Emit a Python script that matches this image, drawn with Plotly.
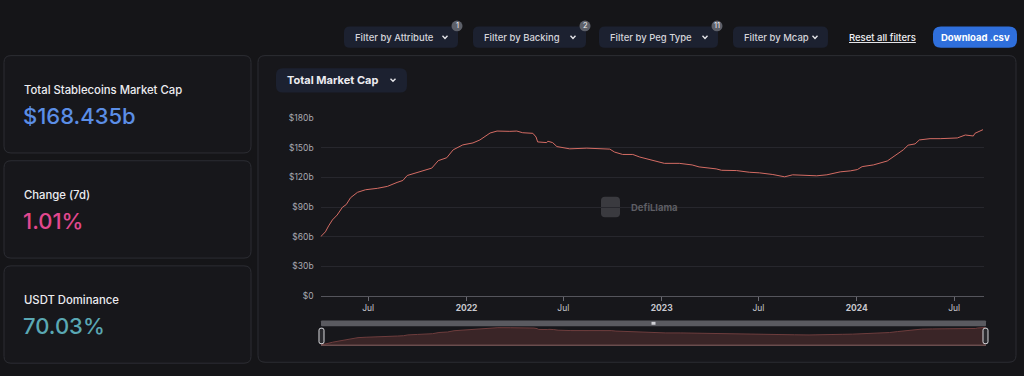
import plotly.graph_objects as go

# ---------------- data ----------------
dates = ["2021-04-03","2021-04-12","2021-04-18","2021-04-25","2021-05-04","2021-05-14","2021-05-21",
         "2021-05-29","2021-06-11","2021-06-26","2021-07-18","2021-08-06","2021-08-24","2021-09-04",
         "2021-09-12","2021-09-30","2021-10-28","2021-11-09","2021-11-25","2021-12-07","2021-12-25",
         "2022-01-13","2022-01-26","2022-02-14","2022-02-27","2022-03-23","2022-04-05","2022-04-16",
         "2022-05-05","2022-05-11","2022-05-14","2022-05-31","2022-06-02","2022-06-11","2022-06-19",
         "2022-07-13","2022-08-14","2022-09-26","2022-10-05","2022-10-20","2022-11-08","2022-11-21",
         "2022-12-10","2022-12-28","2023-01-06","2023-02-03","2023-02-27","2023-03-12","2023-04-13",
         "2023-04-23","2023-05-21","2023-06-14","2023-07-03","2023-07-28","2023-08-19","2023-09-03",
         "2023-09-30","2023-10-18","2023-11-06","2023-12-01","2023-12-20","2024-01-02","2024-01-11",
         "2024-02-01","2024-02-27","2024-03-13","2024-03-28","2024-04-06","2024-04-19","2024-04-27",
         "2024-05-17","2024-06-05","2024-07-07","2024-07-22","2024-08-06","2024-08-09","2024-08-24"]
mcap_b = [60, 65, 71, 77, 82, 90, 92.6,
          99.5, 105, 107.6, 109, 111, 115, 117,
          122, 125, 129.5, 137, 140, 148, 153,
          155, 158, 165, 167, 166.7, 167, 165.3,
          164.7, 161, 156, 155.3, 156.7, 155.3, 151.3,
          149, 149.7, 148.7, 145.7, 143.3, 143.3, 140.7,
          138.3, 135.3, 134.3, 134.3, 132.7, 130.7, 128.7,
          127.3, 127, 125.3, 124.7, 123, 120.7, 122.7,
          121.7, 121.7, 122.7, 125.7, 126.7, 128, 131,
          132.7, 136.7, 142.7, 148, 152.7, 154, 158,
          159.3, 159.3, 160, 163, 162, 164.7, 168.4]

x_tick_vals = ["2021-07-01","2022-01-01","2022-07-01","2023-01-01","2023-07-01","2024-01-01","2024-07-01"]
x_tick_text = ["Jul","<b>2022</b>","Jul","<b>2023</b>","Jul","<b>2024</b>","Jul"]
y_tick_vals = [0, 30, 60, 90, 120, 150, 180]
y_tick_text = ["$0","$30b","$60b","$90b","$120b","$150b","$180b"]

filters = ["Filter by Attribute","Filter by Backing","Filter by Peg Type","Filter by Mcap"]
filter_badges = ["1","2","11",""]
card_titles = ["Total Stablecoins Market Cap","Change (7d)","USDT Dominance"]
card_values = ["$168.435b","1.01%","70.03%"]

# ---------------- helpers ----------------
W, H = 1024, 376
def px(x): return x / W
def py(y): return 1 - y / H

def rr(x0, y0, x1, y1, r):
    pts = [("M", x0 + r, y0), ("L", x1 - r, y0), ("Q", x1, y0, x1, y0 + r), ("L", x1, y1 - r),
           ("Q", x1, y1, x1 - r, y1), ("L", x0 + r, y1), ("Q", x0, y1, x0, y1 - r),
           ("L", x0, y0 + r), ("Q", x0, y0, x0 + r, y0)]
    s = ""
    for p in pts:
        cmd = p[0]
        coords = p[1:]
        parts = []
        for i in range(0, len(coords), 2):
            parts.append(f"{px(coords[i]):.5f},{py(coords[i+1]):.5f}")
        s += cmd + " " + " ".join(parts) + " "
    return s + "Z"

BG = "#151518"
CARD = "#17171b"
BORDER = "#2c2d33"
BTN = "#1c2130"
LINE = "#d46c64"
UI_FONT = "Inter"

shapes = []
annotations = []

def box(x0, y0, x1, y1, r, fill, line=None, lw=1, layer="below"):
    shapes.append(dict(type="path", path=rr(x0, y0, x1, y1, r), xref="paper", yref="paper",
                       fillcolor=fill, line=dict(color=line if line else fill, width=lw if line else 0),
                       layer=layer))

def text(x, y, s, size, color, anchor="left", bold=False, weight=None, family=UI_FONT):
    if bold:
        s = f"<b>{s}</b>"
    f = dict(size=size, color=color, family=family)
    if weight:
        f["weight"] = weight
    annotations.append(dict(x=px(x), y=py(y), xref="paper", yref="paper", text=s, showarrow=False,
                            xanchor=anchor, yanchor="middle", font=f))

def chevron(x, y, color="#e6e6ea"):
    shapes.append(dict(type="path", xref="paper", yref="paper",
                       path=f"M {px(x-2.5):.5f},{py(y-1.3):.5f} L {px(x):.5f},{py(y+1.3):.5f} L {px(x+2.5):.5f},{py(y-1.3):.5f}",
                       line=dict(color=color, width=1.4), layer="above"))

# ---------------- top bar ----------------
btn_x = [(344, 458), (473, 586), (599, 718), (733, 828)]
for (x0, x1), label, badge in zip(btn_x, filters, filter_badges):
    box(x0, 22, x1, 44, 6, BTN)
    text(x0 + 9, 33, label, 9.5, "#d4d4da", weight=500)
    chevron(x1 - 13, 33)
    if badge:
        cx, cy = x1 - 1, 21.5
        shapes.append(dict(type="circle", xref="paper", yref="paper", x0=px(cx - 5.5), x1=px(cx + 5.5),
                           y0=py(cy + 5.5), y1=py(cy - 5.5), fillcolor="#5d6069", line=dict(width=0),
                           layer="above"))
        text(cx, cy, badge, 7.5, "#f0f0f0", anchor="center")

text(847, 33, "<u>Reset all filters</u>", 9.5, "#f0f0f4", weight=500)
box(933, 22, 1017, 44, 8, "#2f6fdc")
text(975, 33, "Download .csv", 9.5, "#ffffff", anchor="center", bold=True)

# ---------------- cards ----------------
card_y = [(52, 152), (160, 260), (268, 368)]
value_colors = ["#5b8ee6", "#e2488f", "#5aa8b4"]
for (y0, y1), t, v, c in zip(card_y, card_titles, card_values, value_colors):
    box(4, y0, 251, y1, 7, CARD, BORDER)
    text(22, y0 + 35, t, 11.3, "#ececf0", weight=500)
    text(21, y0 + 62, v, 22, c, weight=500)

# ---------------- chart panel ----------------
box(258, 52, 1016, 367, 7, CARD, BORDER)
box(276, 65, 407, 90, 7, BTN)
text(285, 77.5, "Total Market Cap", 11, "#ececf0", bold=True)
chevron(393, 77)

# watermark
box(601, 197, 620, 218, 4, "#3a3a3f")
text(629, 208, "DefiLlama", 9.5, "#5e5e64", bold=True)

# slider chrome
box(321, 324, 986, 330, 1, "#5a5a60", layer="below")
shapes.append(dict(type="rect", xref="paper", yref="paper", x0=px(651.5), x1=px(655.5), y0=py(328.5), y1=py(325.5),
                   fillcolor="#cfcfd4", line=dict(width=0), layer="above"))
shapes.append(dict(type="line", xref="paper", yref="paper", x0=px(321), x1=px(986), y0=py(349.5), y1=py(349.5),
                   line=dict(color="#8a6464", width=1), layer="above"))
for hx in (321.5, 985.5):
    box(hx - 2.5, 332, hx + 2.5, 348, 2, "#2a2a2e", "#d8d8dc", 1, layer="above")

# ---------------- figure ----------------
fig = go.Figure()
fig.add_trace(go.Scatter(x=dates, y=mcap_b, mode="lines", line=dict(color=LINE, width=1),
                         hoverinfo="skip", xaxis="x", yaxis="y", showlegend=False))
fig.add_trace(go.Scatter(x=dates, y=mcap_b, mode="lines", line=dict(color="#6e3d3d", width=1),
                         fill="tozeroy", fillcolor="#3a2527", hoverinfo="skip",
                         xaxis="x2", yaxis="y2", showlegend=False))

x_range = ["2021-04-03", "2024-08-25"]
fig.update_layout(
    width=W, height=H, autosize=False,
    margin=dict(l=0, r=0, t=0, b=0),
    paper_bgcolor=BG, plot_bgcolor="rgba(0,0,0,0)",
    shapes=shapes, annotations=annotations,
    font=dict(family=UI_FONT, color="#b0b0b8"),
    xaxis=dict(domain=[px(320.6), px(983.5)], range=x_range, type="date",
               tickvals=x_tick_vals, ticktext=x_tick_text,
               tickfont=dict(size=8.5, color="#c8c8ce"),
               ticks="outside", ticklen=4, tickcolor="#6a6a72",
               showgrid=False, showline=True, linecolor="#55555c", linewidth=1,
               zeroline=False, fixedrange=True),
    yaxis=dict(domain=[py(299), py(116.3)], range=[0, 180],
               tickvals=y_tick_vals, ticktext=y_tick_text,
               tickfont=dict(size=8.5, color="#a8a8b0"),
               showgrid=True, gridcolor="#27272d", gridwidth=1,
               zeroline=False, showline=False, ticklabelstandoff=6, fixedrange=True),
    xaxis2=dict(domain=[px(321), px(986)], range=x_range, type="date", anchor="y2",
                showticklabels=False, showgrid=False, zeroline=False, showline=False, fixedrange=True),
    yaxis2=dict(domain=[py(349.5), py(330)], range=[58, 176], anchor="x2",
                showticklabels=False, showgrid=False, zeroline=False, showline=False, fixedrange=True),
)

fig.write_html("out.html", config={"displayModeBar": False},
               post_script="document.body.style.margin='0';document.body.style.overflow='hidden';")
